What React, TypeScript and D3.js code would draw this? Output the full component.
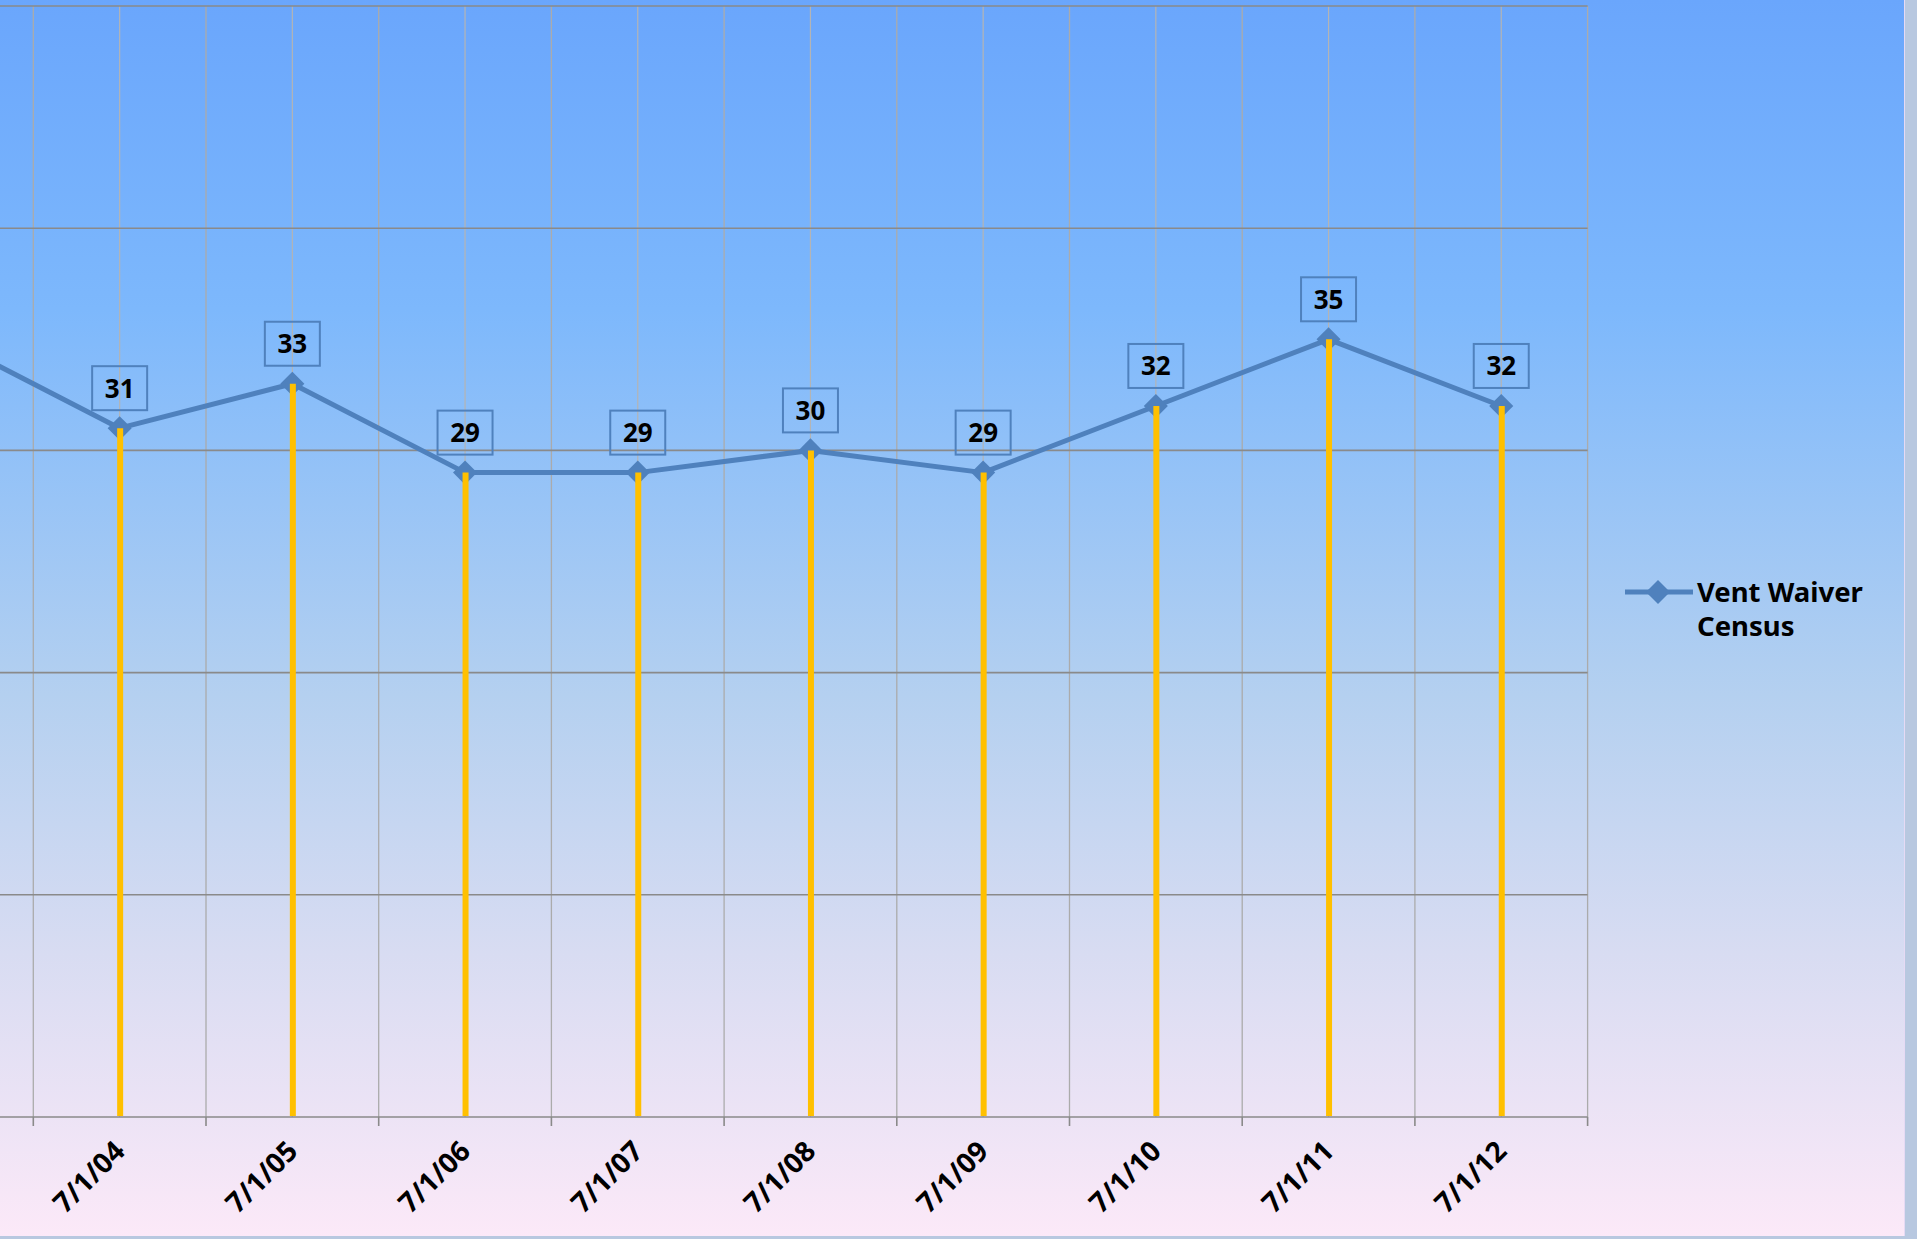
import React from "react";
import * as d3 from "d3";

// Vent Waiver Census, yearly snapshot (first category sits off the left edge)
const categories = [
  "7/1/03",
  "7/1/04",
  "7/1/05",
  "7/1/06",
  "7/1/07",
  "7/1/08",
  "7/1/09",
  "7/1/10",
  "7/1/11",
  "7/1/12",
];
const censusValues = [35, 31, 33, 29, 29, 30, 29, 32, 35, 32];
const yTicks = [0, 10, 20, 30, 40, 50];
const seriesName = ["Vent Waiver", "Census"];

const W = 1917;
const H = 1239;
const FONT = "'Noto Sans', 'Open Sans', sans-serif";
const LINE = "#4F81BD";
const DROP = "#FFC000";

const App: React.FC = () => {
  const x = d3
    .scaleBand<string>()
    .domain(categories)
    .range([-139.4, 1587.6])
    .paddingInner(0)
    .paddingOuter(0);
  const y = d3.scaleLinear().domain([0, 50]).range([1117, 6]);

  const cx = (c: string) => (x(c) as number) + x.bandwidth() / 2;
  const pts = categories.map((c, i) => ({ c, v: censusValues[i] }));
  // only the categories whose centre falls inside the visible window get text
  const shown = pts.filter((d) => cx(d.c) > 0);

  const line = d3
    .line<{ c: string; v: number }>()
    .x((d) => cx(d.c))
    .y((d) => y(d.v));

  const diamond = d3.symbol().type(d3.symbolSquare).size(290)() as string;

  const boundaries = categories.map((c) => x(c) as number).concat([1587.6]);
  const plotLeft = -139.4;
  const plotRight = 1587.6;
  const baseY = y(0);

  return (
    <div style={{ position: "fixed", left: 0, top: 0, width: W, height: H, overflow: "hidden" }}>
      <svg width={W} height={H} style={{ display: "block" }}>
        <defs>
          <linearGradient id="bg" x1="0" y1="0" x2="0" y2="1">
            <stop offset="0" stopColor="#6AA6FC" />
            <stop offset="0.25" stopColor="#7DB8FC" />
            <stop offset="0.56" stopColor="#B4D0F0" />
            <stop offset="0.77" stopColor="#D8DCF2" />
            <stop offset="1" stopColor="#FCE9F8" />
          </linearGradient>
        </defs>
        <rect x={0} y={0} width={W} height={H} fill="url(#bg)" />
        {/* right and bottom window edges */}
        <rect x={1905} y={0} width={W - 1905} height={H} fill="#B8C8E0" />
        <rect x={0} y={1236} width={W} height={3} fill="#B8C8E0" />
        <line x1={1904.5} y1={0} x2={1904.5} y2={1236} stroke="#E6DAF4" />

        {/* vertical gridlines: boundaries and category centres */}
        {boundaries.map((b, i) => (
          <line key={"b" + i} x1={b} x2={b} y1={y(50)} y2={baseY} stroke="#ABABAB" strokeWidth={1.3} />
        ))}
        {categories.map((c) => (
          <line key={"m" + c} x1={cx(c)} x2={cx(c)} y1={y(50)} y2={baseY} stroke="#B4B4B4" strokeWidth={1.2} />
        ))}

        {/* horizontal gridlines */}
        {yTicks.map((t) => (
          <line key={"h" + t} x1={plotLeft} x2={plotRight} y1={y(t)} y2={y(t)} stroke="#8A8A8A" strokeWidth={1.6} />
        ))}

        {/* axis ticks */}
        {boundaries.map((b, i) => (
          <line key={"t" + i} x1={b} x2={b} y1={baseY} y2={baseY + 9} stroke="#8A8A8A" strokeWidth={1.6} />
        ))}

        {/* series line + markers */}
        <path d={line(pts) as string} fill="none" stroke={LINE} strokeWidth={5} strokeLinejoin="round" />
        {pts.map((d) => (
          <path
            key={"d" + d.c}
            d={diamond}
            transform={`translate(${cx(d.c)},${y(d.v)}) rotate(45)`}
            fill={LINE}
          />
        ))}

        {/* drop lines */}
        {pts.map((d) => (
          <line
            key={"y" + d.c}
            x1={cx(d.c) + 0.5}
            x2={cx(d.c) + 0.5}
            y1={y(d.v)}
            y2={baseY - 1}
            stroke={DROP}
            strokeWidth={6}
          />
        ))}

        {/* data labels */}
        {shown.map((d) => (
          <g key={"l" + d.c} transform={`translate(${cx(d.c)},${y(d.v) - 40})`}>
            <rect x={-27.5} y={-22} width={55} height={44} fill="none" stroke={LINE} strokeWidth={2} />
            <text
              textAnchor="middle"
              dy="0.36em"
              fontFamily={FONT}
              fontWeight="bold"
              fontSize={26}
              fill="#000"
            >
              {d.v}
            </text>
          </g>
        ))}

        {/* category labels */}
        {shown.map((d) => (
          <text
            key={"x" + d.c}
            transform={`translate(${cx(d.c) + 7},${baseY + 36}) rotate(-45)`}
            textAnchor="end"
            fontFamily={FONT}
            fontWeight="bold"
            fontSize={28}
            fill="#000"
          >
            {d.c}
          </text>
        ))}

        {/* legend */}
        <line x1={1625} x2={1693} y1={592} y2={592} stroke={LINE} strokeWidth={5} />
        <path d={diamond} transform="translate(1658,592) rotate(45)" fill={LINE} />
        <text x={1697} y={602} fontFamily={FONT} fontWeight="bold" fontSize={27.5} fill="#000">
          {seriesName[0]}
        </text>
        <text x={1697} y={636} fontFamily={FONT} fontWeight="bold" fontSize={27.5} fill="#000">
          {seriesName[1]}
        </text>
      </svg>
    </div>
  );
};

export default App;
